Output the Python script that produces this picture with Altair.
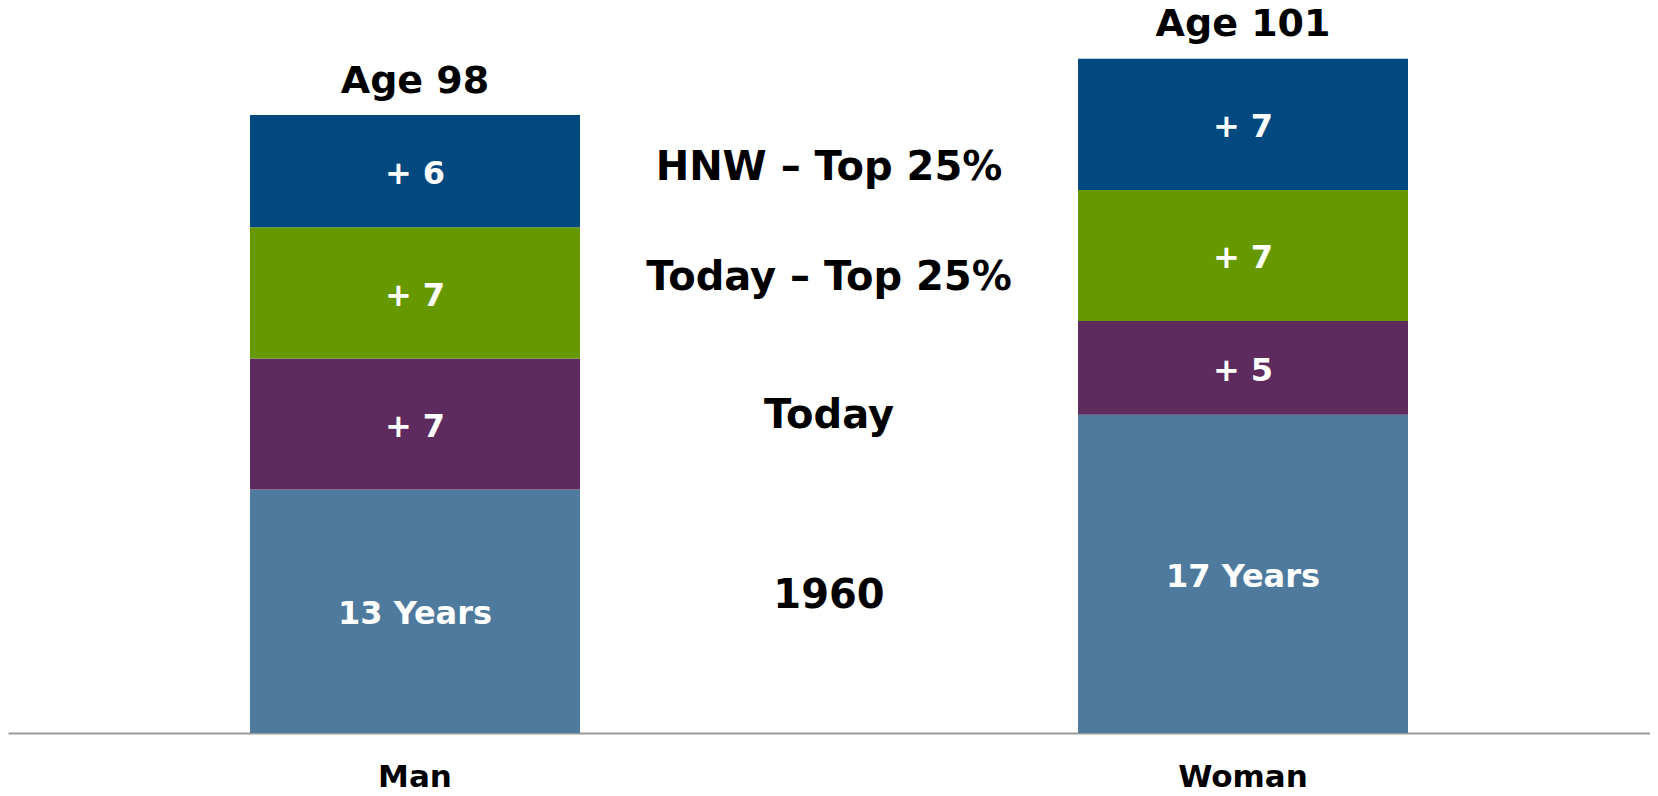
import altair as alt
import pandas as pd

# ---- data ----
genders = ["Man", "Woman"]
segments = ["1960", "Today", "Today – Top 25%", "HNW – Top 25%"]
man_years = [13, 7, 7, 6]
woman_years = [17, 5, 7, 7]
man_labels = ["13 Years", "+ 7", "+ 7", "+ 6"]
woman_labels = ["17 Years", "+ 5", "+ 7", "+ 7"]
base_age = 65
# vertical placement (in years) of the centre captions
caption_years = [7.45, 17.1, 24.45, 30.35]

colors = ["#4E7A9E", "#5E2B5E", "#669900", "#02497F"]
FONT = "DejaVu Sans"

rows = []
for g, yrs, labs in [("Man", man_years, man_labels), ("Woman", woman_years, woman_labels)]:
    for i, (s, v, l) in enumerate(zip(segments, yrs, labs)):
        rows.append({"gender": g, "segment": s, "years": v, "order": i, "label": l})
df = pd.DataFrame(rows)

totals = pd.DataFrame({
    "gender": genders,
    "total": [sum(man_years), sum(woman_years)],
})
totals["age_label"] = ["Age " + str(base_age + t) for t in totals["total"]]

captions = pd.DataFrame({"gender": [" "] * 4, "segment": segments, "ypos": caption_years})

xdom = ["Man", " ", "Woman"]
xscale = alt.Scale(domain=xdom, paddingInner=0.2029, paddingOuter=0.5845)
yscale = alt.Scale(domain=[0, 38.5], nice=False, zero=True)

xenc = alt.X("gender:N", scale=xscale, sort=xdom,
             axis=alt.Axis(title=None, labelAngle=0, ticks=False, labelPadding=29,
                           labelFont=FONT, labelFontSize=31, labelFontWeight="bold",
                           labelColor="black", domainColor="#9a9a9a", domainWidth=2))

stacked = alt.Chart(df).transform_stack(
    stack="years", groupby=["gender"], sort=[alt.SortField("order")], as_=["y0", "y1"]
).transform_calculate(mid="(datum.y0 + datum.y1) / 2")

bars = stacked.mark_bar(size=330).encode(
    x=xenc,
    y=alt.Y("y0:Q", scale=yscale, axis=None),
    y2="y1:Q",
    color=alt.Color("segment:N", scale=alt.Scale(domain=segments, range=colors), legend=None),
)

seg_text = stacked.mark_text(font=FONT, fontSize=32, fontWeight="bold", color="white",
                             baseline="middle", dy=3).encode(
    x=alt.X("gender:N", scale=xscale, sort=xdom),
    y=alt.Y("mid:Q", scale=yscale),
    text="label:N",
)

age_text = alt.Chart(totals).mark_text(font=FONT, fontSize=38, fontWeight="bold", color="black",
                                       baseline="alphabetic", dy=-22.5).encode(
    x=alt.X("gender:N", scale=xscale, sort=xdom),
    y=alt.Y("total:Q", scale=yscale),
    text="age_label:N",
)

cap_text = alt.Chart(captions).mark_text(font=FONT, fontSize=40, fontWeight="bold", color="black",
                                         baseline="middle", dy=3).encode(
    x=alt.X("gender:N", scale=xscale, sort=xdom),
    y=alt.Y("ypos:Q", scale=yscale),
    text="segment:N",
)

chart = alt.layer(bars, seg_text, age_text, cap_text).properties(
    width=1642, height=721,
    autosize=alt.AutoSizeParams(type="none"),
    padding={"left": 0, "top": 4, "right": 0, "bottom": 57},
    background="white",
).configure_view(stroke=None)

chart.save("out.html", embed_options={"renderer": "svg", "actions": False})
